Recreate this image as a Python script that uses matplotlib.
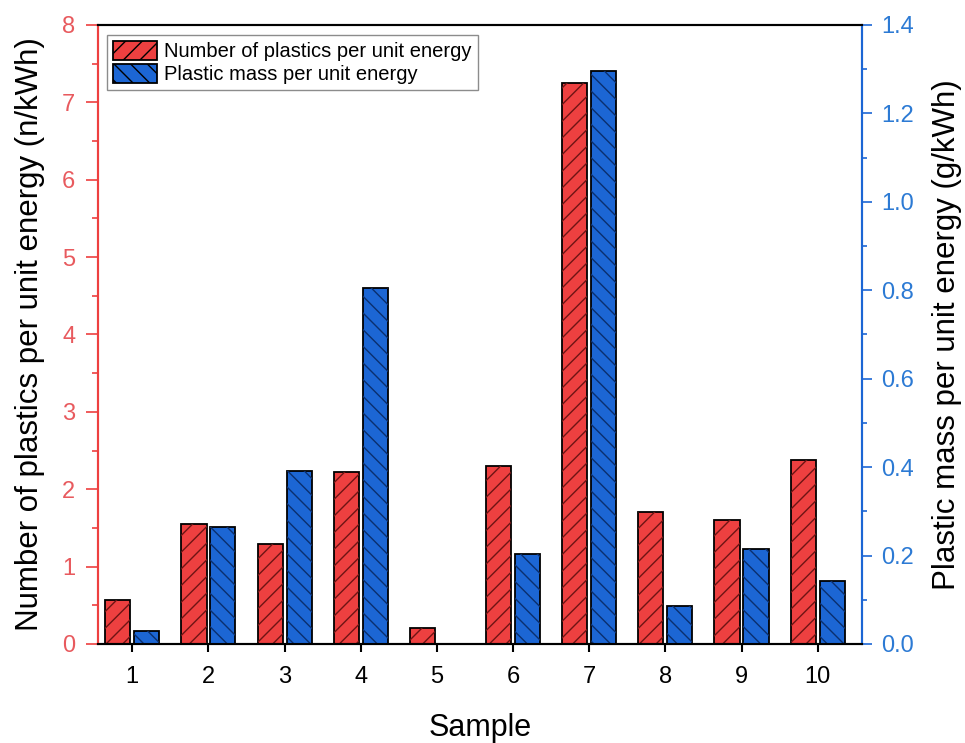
import numpy as np
import matplotlib
matplotlib.use('Agg')
import matplotlib.pyplot as plt
from matplotlib.ticker import MultipleLocator, FormatStrFormatter

plt.rcParams['font.family'] = ['Liberation Sans', 'DejaVu Sans']
plt.rcParams['hatch.linewidth'] = 1.0

samples = [1, 2, 3, 4, 5, 6, 7, 8, 9, 10]
number_per_energy = [0.57, 1.55, 1.29, 2.22, 0.20, 2.30, 7.25, 1.70, 1.60, 2.38]
mass_per_energy = [0.03, 0.265, 0.392, 0.805, 0.0, 0.204, 1.296, 0.086, 0.214, 0.143]

red = '#EE4040'
blue = '#1C66D4'
red_hatch = '#6E1414'
blue_hatch = '#0B2F6E'
red_txt = '#E85A5E'
blue_txt = '#2C7AD4'

fig = plt.figure(figsize=(9.65, 7.43), dpi=100)
ax = fig.add_axes([0.1016, 0.1333, 0.7915, 0.8331])
ax2 = ax.twinx()

x = np.array(samples)
w = 0.33
# filled bars with black outline, then hatch overlay in darker tone
b1 = ax.bar(x - 0.19, number_per_energy, w, color=red, edgecolor='black',
            linewidth=1.3, label='Number of plastics per unit energy')
ax.bar(x - 0.19, number_per_energy, w, fill=False, edgecolor=red_hatch,
       linewidth=0, hatch='//')
b2 = ax2.bar(x + 0.19, mass_per_energy, w, color=blue, edgecolor='black',
             linewidth=1.3, label='Plastic mass per unit energy')
ax2.bar(x + 0.19, mass_per_energy, w, fill=False, edgecolor=blue_hatch,
        linewidth=0, hatch='\\\\')

ax.set_xlim(0.55, 10.58)
ax.set_ylim(0, 8)
ax2.set_ylim(0, 1.4)
ax.set_xticks(samples)

ax.yaxis.set_major_locator(MultipleLocator(1))
ax.yaxis.set_minor_locator(MultipleLocator(0.5))
ax2.yaxis.set_major_locator(MultipleLocator(0.2))
ax2.yaxis.set_minor_locator(MultipleLocator(0.1))
ax2.yaxis.set_major_formatter(FormatStrFormatter('%.1f'))

ax.tick_params(axis='x', direction='out', length=6, width=1.5, labelsize=17, pad=10)
ax.tick_params(axis='y', which='major', direction='out', length=8.5, width=1.2,
               colors=red, labelcolor=red_txt, labelsize=17, pad=8)
ax.tick_params(axis='y', which='minor', direction='out', length=4, width=1.2, colors=red)
ax2.tick_params(axis='y', which='major', direction='out', length=7, width=1.2,
                colors=blue, labelcolor=blue_txt, labelsize=17, pad=7)
ax2.tick_params(axis='y', which='minor', direction='out', length=3.5, width=1.2, colors=blue)

for a in (ax, ax2):
    a.spines['left'].set_color(red)
    a.spines['right'].set_color(blue)
    for s in a.spines.values():
        s.set_linewidth(1.5)

ax.set_xlabel('Sample', fontsize=22, labelpad=18)
ax.set_ylabel('Number of plastics per unit energy (n/kWh)', fontsize=22.5, labelpad=12)
ax2.set_ylabel('Plastic mass per unit energy (g/kWh)', fontsize=22.5, labelpad=13)

leg = ax.legend([b1, b2], [b1.get_label(), b2.get_label()], loc='upper left',
                bbox_to_anchor=(0.0118, 0.984), borderaxespad=0, fontsize=14.5,
                frameon=True, fancybox=False, edgecolor='#707070',
                handlelength=2.2, handleheight=1.1, handletextpad=0.35,
                labelspacing=0.12, borderpad=0.3)
leg.get_frame().set_linewidth(1.0)
# give legend handles the hatch too
leg.legend_handles[0].set_hatch('//')
leg.legend_handles[1].set_hatch('\\\\')

fig.savefig('out.png', dpi=100)
